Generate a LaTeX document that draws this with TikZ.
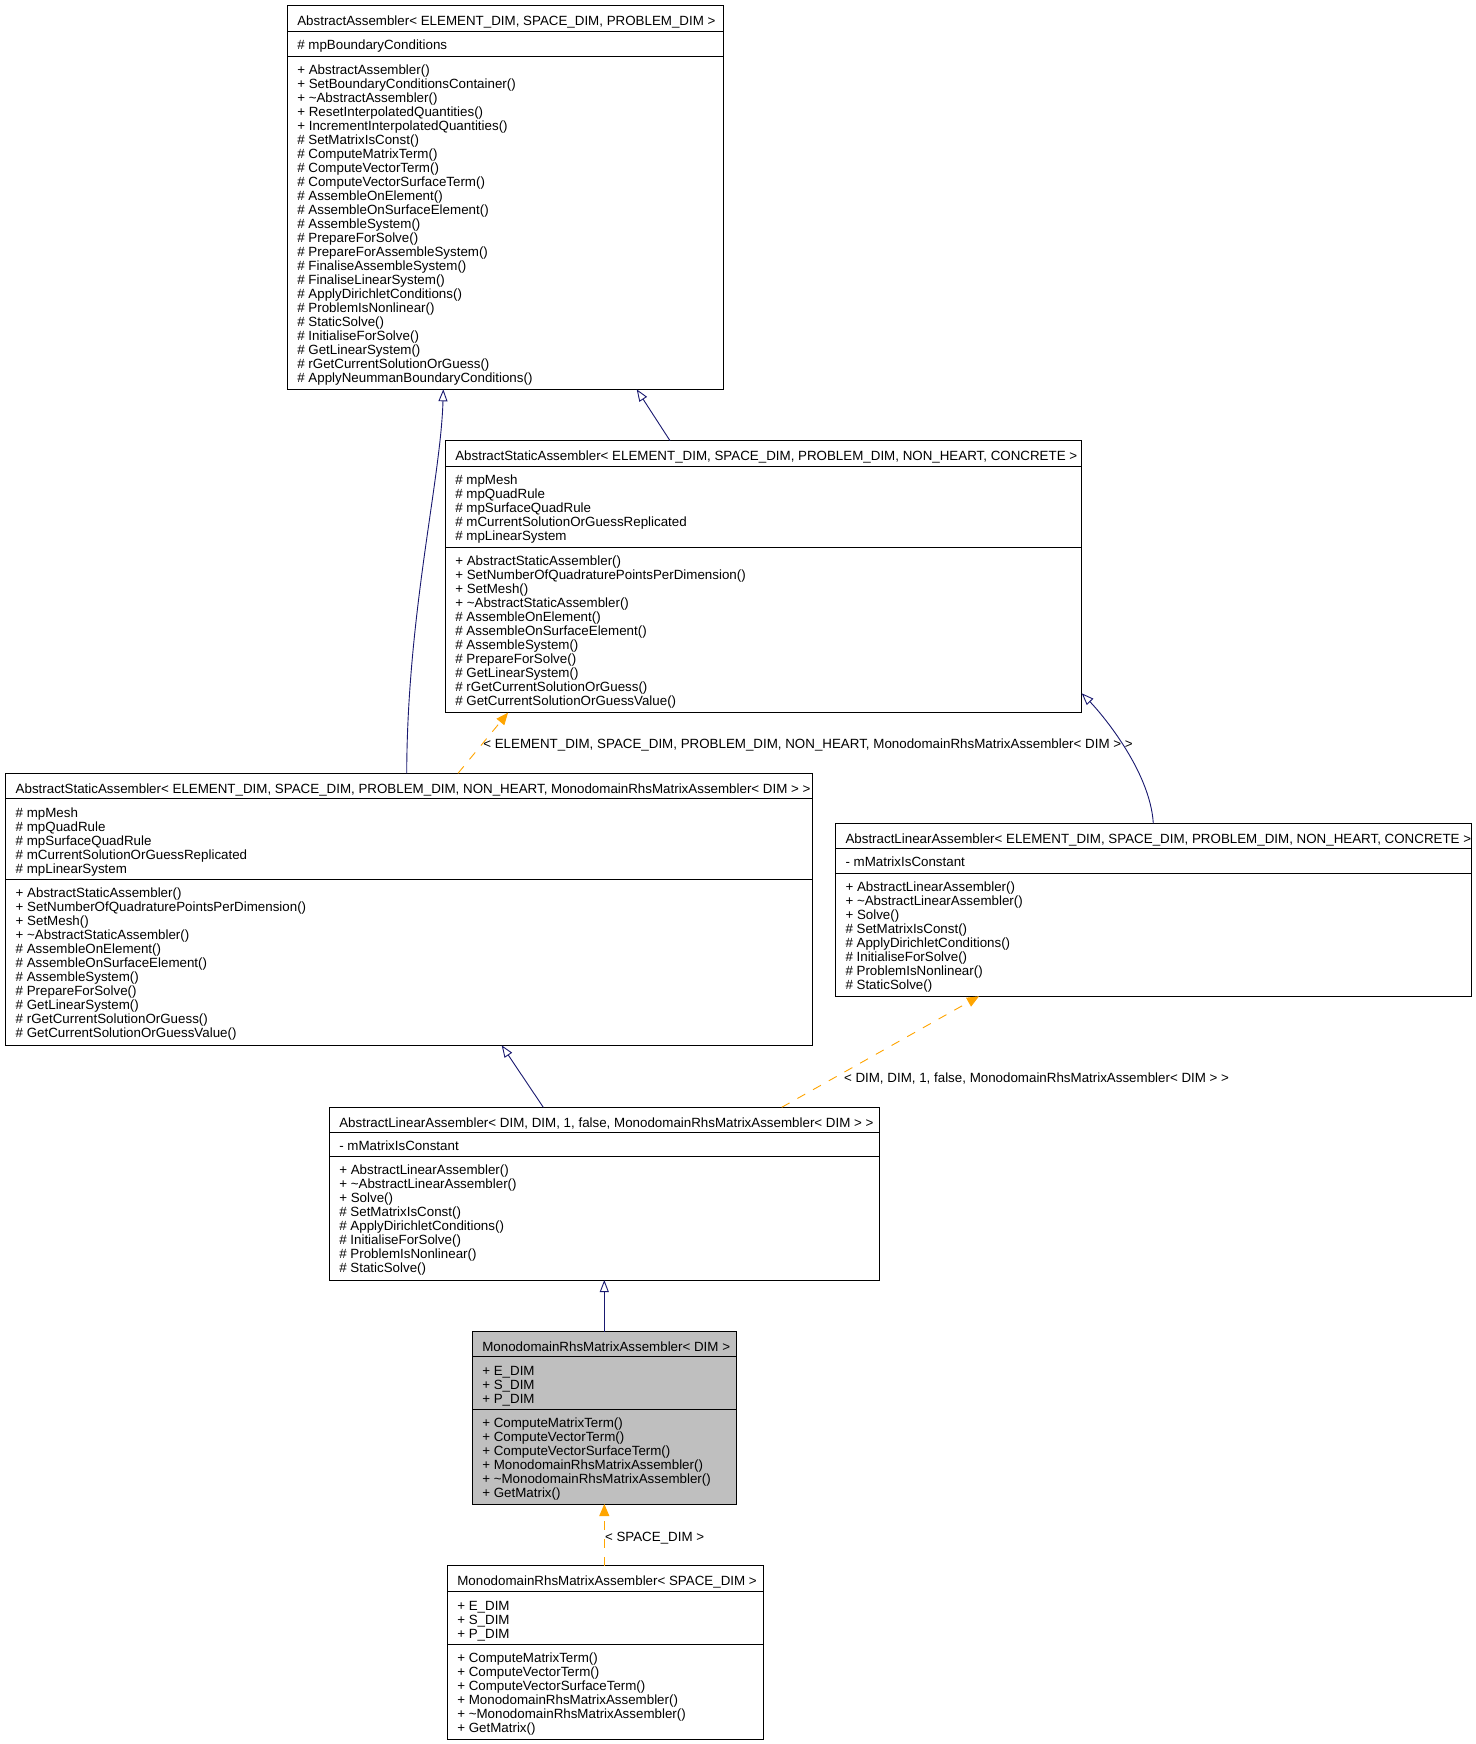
\documentclass[tikz,border=0pt]{standalone}
\usepackage{fontspec}
\setmainfont{Liberation Sans}
\usetikzlibrary{arrows.meta,calc}
\definecolor{edgeblue}{HTML}{191970}
\definecolor{tplorange}{HTML}{FFA500}
\definecolor{curgray}{HTML}{BFBFBF}
\newcommand\dgs{\rule{0pt}{11pt}}
\newcommand\dgSAattrs{\dgs\# mpMesh\\\# mpQuadRule\\\# mpSurfaceQuadRule\\\# mCurrentSolutionOrGuessReplicated\\\# mpLinearSystem}
\newcommand\dgSAmeths{\dgs+ AbstractStaticAssembler()\\+ SetNumberOfQuadraturePointsPerDimension()\\+ SetMesh()\\+ \textasciitilde AbstractStaticAssembler()\\\# AssembleOnElement()\\\# AssembleOnSurfaceElement()\\\# AssembleSystem()\\\# PrepareForSolve()\\\# GetLinearSystem()\\\# rGetCurrentSolutionOrGuess()\\\# GetCurrentSolutionOrGuessValue()}
\newcommand\dgLAmeths{\dgs+ AbstractLinearAssembler()\\+ \textasciitilde AbstractLinearAssembler()\\+ Solve()\\\# SetMatrixIsConst()\\\# ApplyDirichletConditions()\\\# InitialiseForSolve()\\\# ProblemIsNonlinear()\\\# StaticSolve()}
\newcommand\dgMattrs{\dgs+ E\_DIM\\+ S\_DIM\\+ P\_DIM}
\newcommand\dgMmeths{\dgs+ ComputeMatrixTerm()\\+ ComputeVectorTerm()\\+ ComputeVectorSurfaceTerm()\\+ MonodomainRhsMatrixAssembler()\\+ \textasciitilde MonodomainRhsMatrixAssembler()\\+ GetMatrix()}
\begin{document}
\begin{tikzpicture}[x=1pt,y=-1pt,
  cls/.style={draw=black,line width=1pt,inner sep=0pt,outer sep=0pt,anchor=north west},
  sepline/.style={draw=black,line width=1pt},
  txt/.style={inner sep=0pt,outer sep=0pt,anchor=north west,align=left,font=\fontsize{13.35}{14}\selectfont},
  inh/.style={draw=edgeblue,line width=0.9pt,-{Triangle[open,length=12pt,width=9pt]}},
  tmpl/.style={draw=tplorange,line width=0.9pt,dash pattern=on 9pt off 9pt,-{Triangle[length=12pt,width=10pt,fill=tplorange]}}]
\useasboundingbox (0,0) rectangle (1475,1744);
\fill[white] (0,0) rectangle (1475,1744);

% ---- boxes
\node[cls,minimum width=436.4pt,minimum height=384pt] (A) at (287.3,5.3) {};
\node[cls,minimum width=636.4pt,minimum height=272pt] (B) at (445.3,440.7) {};
\node[cls,minimum width=806.3pt,minimum height=272pt] (C) at (5.7,773.3) {};
\node[cls,minimum width=636.2pt,minimum height=173pt] (D) at (835.5,823.3) {};
\node[cls,minimum width=549.7pt,minimum height=172.7pt] (E) at (329.3,1107.3) {};
\node[cls,fill=curgray,minimum width=263.7pt,minimum height=172.3pt] (F) at (472.3,1331.7) {};
\node[cls,minimum width=315.7pt,minimum height=173.3pt] (G) at (447.3,1565.7) {};

% ---- separators
\foreach \b/\a/\c in {A/26.4/51.4, B/25.5/106.5, C/25.5/106.5, D/25/50.4, E/24.7/49.4, F/25/77.3, G/26/78.3}{
  \draw[sepline] ($(\b.north west)+(0,\a)$) -- ($(\b.north east)+(0,\a)$);
  \draw[sepline] ($(\b.north west)+(0,\c)$) -- ($(\b.north east)+(0,\c)$);
}

% ---- texts A
\node[txt] (At) at (297.3,14.3) {\dgs AbstractAssembler< ELEMENT\_DIM, SPACE\_DIM, PROBLEM\_DIM >};
\node[txt] (Aa) at (297.3,38.7) {\dgs\# mpBoundaryConditions};
\node[txt] (Am) at (297.3,63.2) {\dgs+ AbstractAssembler()\\+ SetBoundaryConditionsContainer()\\+ \textasciitilde AbstractAssembler()\\+ ResetInterpolatedQuantities()\\+ IncrementInterpolatedQuantities()\\\# SetMatrixIsConst()\\\# ComputeMatrixTerm()\\\# ComputeVectorTerm()\\\# ComputeVectorSurfaceTerm()\\\# AssembleOnElement()\\\# AssembleOnSurfaceElement()\\\# AssembleSystem()\\\# PrepareForSolve()\\\# PrepareForAssembleSystem()\\\# FinaliseAssembleSystem()\\\# FinaliseLinearSystem()\\\# ApplyDirichletConditions()\\\# ProblemIsNonlinear()\\\# StaticSolve()\\\# InitialiseForSolve()\\\# GetLinearSystem()\\\# rGetCurrentSolutionOrGuess()\\\# ApplyNeummanBoundaryConditions()};

% ---- texts B
\node[txt] (Bt) at (455.3,449.7) {\dgs AbstractStaticAssembler< ELEMENT\_DIM, SPACE\_DIM, PROBLEM\_DIM, NON\_HEART, CONCRETE >};
\node[txt] (Ba) at (455.3,473.5) {\dgSAattrs};
\node[txt] (Bm) at (455.3,554.2) {\dgSAmeths};

% ---- texts C
\node[txt] (Ct) at (15.7,782.3) {\dgs AbstractStaticAssembler< ELEMENT\_DIM, SPACE\_DIM, PROBLEM\_DIM, NON\_HEART, MonodomainRhsMatrixAssembler< DIM > >};
\node[txt] (Ca) at (15.7,806.1) {\dgSAattrs};
\node[txt] (Cm) at (15.7,886.8) {\dgSAmeths};

% ---- texts D
\node[txt] (Dt) at (845.5,832.3) {\dgs AbstractLinearAssembler< ELEMENT\_DIM, SPACE\_DIM, PROBLEM\_DIM, NON\_HEART, CONCRETE >};
\node[txt] (Da) at (845.5,855.6) {\dgs - mMatrixIsConstant};
\node[txt] (Dm) at (845.5,880.7) {\dgLAmeths};

% ---- texts E
\node[txt] (Et) at (339.3,1116.3) {\dgs AbstractLinearAssembler< DIM, DIM, 1, false, MonodomainRhsMatrixAssembler< DIM > >};
\node[txt] (Ea) at (339.3,1139.3) {\dgs - mMatrixIsConstant};
\node[txt] (Em) at (339.3,1163.7) {\dgLAmeths};

% ---- texts F
\node[txt] (Ft) at (482.3,1340.7) {\dgs MonodomainRhsMatrixAssembler< DIM >};
\node[txt] (Fa) at (482.3,1364) {\dgMattrs};
\node[txt] (Fm) at (482.3,1416) {\dgMmeths};

% ---- texts G
\node[txt] (Gt) at (457.3,1574.7) {\dgs MonodomainRhsMatrixAssembler< SPACE\_DIM >};
\node[txt] (Ga) at (457.3,1599) {\dgMattrs};
\node[txt] (Gm) at (457.3,1651) {\dgMmeths};

% ---- connectors
\draw[inh] ($(B.north west)+(224.7,0)$) -- ($(A.south west)+(349.4,0)$);
\draw[inh] ($(C.north west)+(401,0)$) .. controls +(0.5,-160) and +(-2.5,90) .. ($(A.south west)+(156,0)$);
\draw[tmpl] ($(C.north west)+(452.3,0)$) -- ($(B.south west)+(62.7,0)$);
\draw[inh] ($(D.north west)+(317.8,0)$) .. controls +(-3.3,-53.3) and +(18.3,18.7) .. ($(B.north east)+(0,252.6)$);
\draw[inh] ($(E.north west)+(214,0)$) -- ($(C.south west)+(496,0)$);
\draw[tmpl] ($(E.north west)+(452.4,0)$) -- ($(D.south west)+(143.5,0)$);
\draw[inh] ($(F.north west)+(132,0)$) -- ($(E.south west)+(275,0)$);
\draw[tmpl] ($(G.north west)+(157,0)$) -- ($(F.south west)+(132,0)$);

% ---- labels
\node[txt] (L1) at (483.3,737.3) {\dgs < ELEMENT\_DIM, SPACE\_DIM, PROBLEM\_DIM, NON\_HEART, MonodomainRhsMatrixAssembler< DIM > >};
\node[txt] (L2) at (844,1071.3) {\dgs < DIM, DIM, 1, false, MonodomainRhsMatrixAssembler< DIM > >};
\node[txt] (L3) at (605,1530) {\dgs < SPACE\_DIM >};
\end{tikzpicture}
\end{document}
